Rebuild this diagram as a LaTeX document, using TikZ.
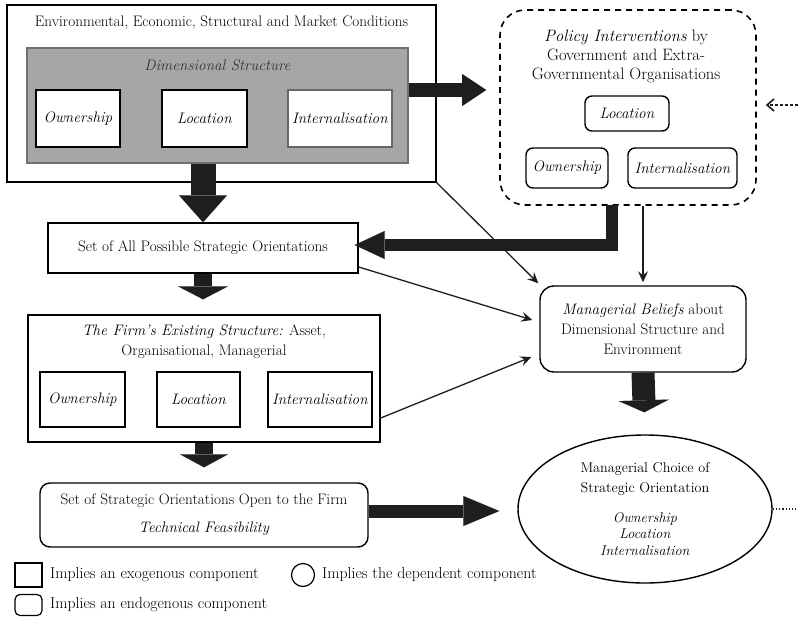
\documentclass[tikz,border=0pt]{standalone}
\usepackage{fontspec}
\usetikzlibrary{arrows.meta,calc,shapes.geometric}
\newcommand\fsz{\fontsize{15.2}{18}\selectfont}
\definecolor{ink}{HTML}{1E1E1E}
\definecolor{grayfill}{HTML}{A6A6A6}
\definecolor{grayline}{HTML}{707070}
\tikzset{
  every node/.style={font=\fsz, inner sep=0pt, align=center},
  sqbox/.style={draw, line width=1.4pt},
  rbox/.style={draw, line width=1.4pt, rounded corners=#1},
  rbox/.default=7pt,
  fat/.style={draw=ink, line width=#1},
  thin/.style={draw=ink, line width=1.3pt, -{Stealth[length=11pt,width=10pt,inset=4pt]}},
}
\begin{document}
\begin{tikzpicture}[x=1pt,y=-1pt]
\useasboundingbox (0,0) rectangle (798,619);

% helper coordinates
\coordinate (y90) at (0,90);
\coordinate (x612) at (612,0);
\coordinate (x643) at (643,0);
\coordinate (rt) at (798,105);
\coordinate (rb) at (798,509);

% outer environment box
\node[sqbox, minimum width=429, minimum height=177] (env) at (221.5,93.5) {};
\node (envlab) at (221.5,23) {Environmental, Economic, Structural and Market Conditions};
\node[draw=grayline, fill=grayfill, line width=1.6pt, minimum width=381, minimum height=115] (gray) at (217.5,105.5) {};
\node[text=black!80] (dimlab) at (217.5,65) {\textit{Dimensional Structure}};
\node[sqbox, fill=white, minimum width=84, minimum height=57] (o1) at (78,118.5) {\textit{Ownership}};
\node[sqbox, fill=white, minimum width=85, minimum height=57] (l1) at (204.5,118.5) {\textit{Location}};
\node[sqbox, draw=black!60, fill=white, minimum width=104, minimum height=57] (i1) at (340,118.5) {\textit{Internalisation}};

% policy box
\node[draw, line width=1.6pt, dash pattern=on 6pt off 5pt, rounded corners=25pt, minimum width=256, minimum height=195] (pol) at (628,107.5) {};
\node[font=\fontsize{16.5}{19}\selectfont] (pollab) at (626,56) {\textit{Policy Interventions} by\\Government and Extra-\\Governmental Organisations};
\node[rbox, minimum width=84, minimum height=35] (l2) at (627,113.5) {\textit{Location}};
\node[rbox, minimum width=82, minimum height=40] (o2) at (567,168) {\textit{Ownership}};
\node[rbox, minimum width=109, minimum height=40] (i2) at (682.5,168) {\textit{Internalisation}};

% set of all possible
\node[sqbox, minimum width=310, minimum height=50] (set1) at (203,248) {Set of All Possible Strategic Orientations};

% firm
\node[sqbox, minimum width=352, minimum height=127] (firm) at (204,378.5) {};
\node[font=\fontsize{15.2}{20}\selectfont] (firmlab) at (204,342) {\textit{The Firm's Existing Structure:} Asset,\\Organisational, Managerial};
\node[sqbox, minimum width=85, minimum height=55] (o3) at (82.5,399.5) {\textit{Ownership}};
\node[sqbox, minimum width=83, minimum height=55] (l3) at (198.5,399.5) {\textit{Location}};
\node[sqbox, minimum width=104, minimum height=55] (i3) at (320,399.5) {\textit{Internalisation}};

% beliefs
\node[rbox=14pt, minimum width=206, minimum height=86, font=\fontsize{15.2}{20}\selectfont] (bel) at (643,329) {\textit{Managerial Beliefs} about\\Dimensional Structure and\\Environment};

% set open to firm
\node[rbox=10pt, minimum width=328, minimum height=64] (set2) at (204,515) {Set of Strategic Orientations Open to the Firm\\[10pt]\textit{Technical Feasibility}};

% ellipse
\node[draw, ellipse, line width=1.4pt, minimum width=254, minimum height=148, font=\fontsize{14.2}{16.5}\selectfont] (ell) at (645,509) {Managerial Choice of\\[3.5pt]Strategic Orientation\\[13pt]\textit{Ownership}\\\textit{Location}\\\textit{Internalisation}};

% legend
\node[sqbox, line width=1.2pt, minimum width=27, minimum height=24] (lg1) at (28.5,575) {};
\node[anchor=west, font=\fontsize{15.8}{18}\selectfont] (lg1t) at (50,575) {Implies an exogenous component};
\node[draw, circle, line width=1.2pt, minimum size=23] (lg2) at (303,575) {};
\node[anchor=west, font=\fontsize{15.8}{18}\selectfont] (lg2t) at (322,575) {Implies the dependent component};
\node[rbox=5pt, line width=1.2pt, minimum width=27, minimum height=21] (lg3) at (28.5,605) {};
\node[anchor=west, font=\fontsize{15.8}{18}\selectfont] (lg3t) at (50,605) {Implies an endogenous component};

% thick arrows
\draw[fat=14pt, -{Triangle[length=24pt,width=32pt,line width=0.01pt]}] (gray.east |- y90) -- ([xshift=-13pt]pol.west |- y90);
\draw[fat=25pt, -{Triangle[length=27pt,width=48pt,line width=0.01pt]}] (set1.north |- gray.south) -- (set1.north);
\draw[fat=18pt, -{Triangle[length=13pt,width=50pt,line width=0.01pt]}, shorten >=15pt] (set1.south) -- (firm.north -| set1.south);
\draw[fat=18pt, -{Triangle[length=13pt,width=48pt,line width=0.01pt]}, shorten >=15pt] (firm.south) -- (set2.north);
\draw[fat=23pt, -{Triangle[length=12pt,width=50pt,line width=0.01pt]}, shorten >=22pt] (bel.south) -- (ell.north);
\draw[fat=13pt, -{Triangle[length=36pt,width=30pt,line width=0.01pt]}, shorten >=18pt] ([yshift=4pt]set2.east) -- ([yshift=4pt]ell.west |- set2.east);
\draw[fat=12pt, line join=miter, -{Triangle[length=30pt,width=28pt,line width=0.01pt]}, shorten >=-4pt] ([yshift=0.8pt]pol.south -| x612) |- ([yshift=3pt]set1.east);

% thin arrows
\draw[thin] (env.south east) -- ([shift={(-1pt,2pt)}]bel.north west);
\draw[thin] (pol.south -| x643) -- ([yshift=3pt]bel.north -| x643);
\draw[thin] ([yshift=-19pt]set1.east) -- ([xshift=-7pt,yshift=9pt]bel.west);
\draw[thin] ([yshift=-39.5pt]firm.east) -- ([xshift=-8pt,yshift=-28pt]bel.west);

% dashed / dotted side links
\draw[draw=ink, line width=1.3pt, dash pattern=on 3pt off 2pt, -{Straight Barb[length=7pt,width=12pt,line width=1.6pt]}] (rt) -- ([xshift=9pt]pol.east |- rt);
\draw[draw=ink, line width=1.2pt, dotted] (ell.east) -- (rb);
\end{tikzpicture}
\end{document}
